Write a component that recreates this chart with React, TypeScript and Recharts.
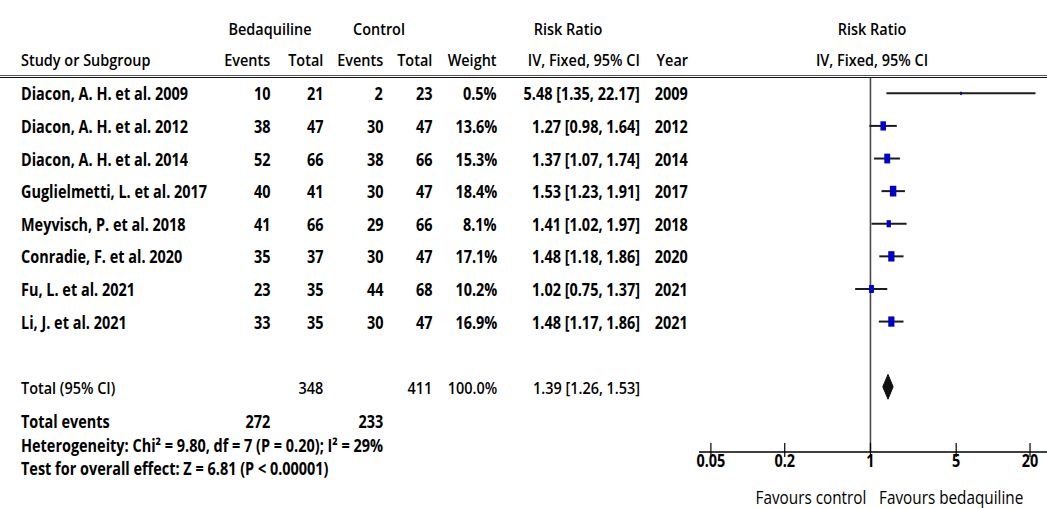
import React from "react";
import { ScatterChart, Scatter, XAxis, YAxis, ErrorBar, ReferenceLine } from "recharts";

// study rows, top to bottom
const studyNames = [
  "Diacon, A. H. et al. 2009",
  "Diacon, A. H. et al. 2012",
  "Diacon, A. H. et al. 2014",
  "Guglielmetti, L. et al. 2017",
  "Meyvisch, P. et al. 2018",
  "Conradie, F. et al. 2020",
  "Fu, L. et al. 2021",
  "Li, J. et al. 2021",
];
const bedEvents = [10, 38, 52, 40, 41, 35, 23, 33];
const bedTotals = [21, 47, 66, 41, 66, 37, 35, 35];
const ctrlEvents = [2, 30, 38, 30, 29, 30, 44, 30];
const ctrlTotals = [23, 47, 66, 47, 66, 47, 68, 47];
const weights = [0.5, 13.6, 15.3, 18.4, 8.1, 17.1, 10.2, 16.9];
const riskRatios = [5.48, 1.27, 1.37, 1.53, 1.41, 1.48, 1.02, 1.48];
const ciLow = [1.35, 0.98, 1.07, 1.23, 1.02, 1.18, 0.75, 1.17];
const ciHigh = [22.17, 1.64, 1.74, 1.91, 1.97, 1.86, 1.37, 1.86];
const years = [2009, 2012, 2014, 2017, 2018, 2020, 2021, 2021];

// pooled result
const totalBed = 348;
const totalCtrl = 411;
const totalEventsBed = 272;
const totalEventsCtrl = 233;
const totalRR = 1.39;
const totalLow = 1.26;
const totalHigh = 1.53;

const axisTicks = [0.05, 0.2, 1, 5, 20];

// layout
const W = 1047;
const H = 508;
const PLOT_LEFT = 699;
const PLOT_TOP = 77;
const PLOT_BOTTOM = 452;
const X_MIN = 0.04;
const X_MAX = 27.5;
const Y_MIN = -0.5;
const Y_MAX = 11;
const TOTAL_ROW = 9;
const FS = 17;
const SX = 0.85;
const FONT = "'Open Sans', sans-serif";

const rowY = (i: number) => PLOT_TOP + ((i - Y_MIN) / (Y_MAX - Y_MIN)) * (PLOT_BOTTOM - PLOT_TOP);

const fmt1 = (v: number) => v.toFixed(1) + "%";
const fmt2 = (v: number) => v.toFixed(2);
const rrText = (rr: number, lo: number, hi: number) => `${fmt2(rr)} [${fmt2(lo)}, ${fmt2(hi)}]`;

const studyPoints = riskRatios.map((rr, i) => ({
  x: rr,
  y: i,
  err: [rr - ciLow[i], ciHigh[i] - rr],
  w: weights[i],
}));

const diamondPoints = [
  { x: totalLow, y: TOTAL_ROW },
  { x: totalRR, y: TOTAL_ROW - 0.38 },
  { x: totalHigh, y: TOTAL_ROW },
  { x: totalRR, y: TOTAL_ROW + 0.38 },
  { x: totalLow, y: TOTAL_ROW },
];

function T({ x, y, a = "start", w = 700, s = FS, children }: any) {
  const base: React.CSSProperties = {
    position: "absolute",
    top: y,
    whiteSpace: "nowrap",
    lineHeight: 1,
    fontSize: s,
    fontWeight: w,
    fontFamily: FONT,
    color: "#000",
  };
  let style: React.CSSProperties;
  if (a === "end") {
    style = { ...base, right: W - x, transform: `translateY(-50%) scaleX(${SX})`, transformOrigin: "right center" };
  } else if (a === "middle") {
    style = { ...base, left: x, transform: `translate(-50%, -50%) scaleX(${SX})`, transformOrigin: "center center" };
  } else {
    style = { ...base, left: x, transform: `translateY(-50%) scaleX(${SX})`, transformOrigin: "left center" };
  }
  return <div style={style}>{children}</div>;
}

function AxisTick(props: any) {
  const { x, y, payload } = props;
  return (
    <g>
      <line x1={x} x2={x} y1={y - 9} y2={y + 5} stroke="#000" strokeWidth={1.2} />
      <text
        transform={`translate(${x},${y + 9}) scale(${SX},1)`}
        textAnchor="middle"
        dominantBaseline="central"
        fontFamily={FONT}
        fontWeight={700}
        fontSize={FS}
        fill="#000"
      >
        {String(payload.value)}
      </text>
    </g>
  );
}

const renderSquare = (p: any) => {
  const h = Math.max(2.5 * Math.sqrt(p.payload.w), 3);
  const w = Math.max(h * 0.6, 2);
  return <rect x={p.cx - w / 2} y={p.cy - h / 2} width={w} height={h} fill="#0000c8" />;
};

export default function App() {
  return (
    <div style={{ position: "absolute", left: 0, top: 0, width: W, height: H, background: "#fff", overflow: "hidden" }}>
      <div style={{ position: "absolute", left: 0, top: 0 }}>
        <ScatterChart
          width={W}
          height={H}
          margin={{ top: PLOT_TOP, right: 0, bottom: H - PLOT_BOTTOM - 30, left: PLOT_LEFT }}
        >
          <XAxis
            type="number"
            dataKey="x"
            scale="log"
            domain={[X_MIN, X_MAX]}
            ticks={axisTicks}
            interval={0}
            allowDataOverflow
            height={30}
            axisLine={{ stroke: "#000", strokeWidth: 1.5 }}
            tickLine={false}
            tickSize={0}
            tickMargin={0}
            tick={(p: any) => <AxisTick {...p} />}
          />
          <YAxis type="number" dataKey="y" domain={[Y_MIN, Y_MAX]} reversed hide width={0} allowDataOverflow />
          <ReferenceLine x={1} stroke="#4a4a4a" strokeWidth={1.6} />
          <Scatter data={studyPoints} isAnimationActive={false} shape={renderSquare}>
            <ErrorBar dataKey="err" direction="x" width={0} stroke="#1c1c1c" strokeWidth={2} />
          </Scatter>
          <Scatter
            data={diamondPoints}
            isAnimationActive={false}
            line={{ stroke: "#111", strokeWidth: 1, fill: "#111" }}
            shape={() => <g />}
          />
        </ScatterChart>
      </div>

      {/* header rule */}
      <div style={{ position: "absolute", left: 0, top: 75, width: W, height: 1, borderTop: "1px solid #555", borderBottom: "1px solid #111" }} />

      {/* headers */}
      <T x={270} y={28} a="middle" w={600}>Bedaquiline</T>
      <T x={379} y={28} a="middle" w={600}>Control</T>
      <T x={568} y={28} a="middle" w={600}>Risk Ratio</T>
      <T x={872} y={28} a="middle" w={600}>Risk Ratio</T>
      <T x={21} y={59} w={600}>Study or Subgroup</T>
      <T x={270} y={59} a="end" w={600}>Events</T>
      <T x={323} y={59} a="end" w={600}>Total</T>
      <T x={383} y={59} a="end" w={600}>Events</T>
      <T x={432} y={59} a="end" w={600}>Total</T>
      <T x={497} y={59} a="end" w={600}>Weight</T>
      <T x={640} y={59} a="end" w={600}>IV, Fixed, 95% CI</T>
      <T x={688} y={59} a="end" w={600}>Year</T>
      <T x={872} y={59} a="middle" w={600}>IV, Fixed, 95% CI</T>

      {/* study rows */}
      {studyNames.map((name, i) => (
        <React.Fragment key={name}>
          <T x={21} y={rowY(i)}>{name}</T>
          <T x={270} y={rowY(i)} a="end">{bedEvents[i]}</T>
          <T x={323} y={rowY(i)} a="end">{bedTotals[i]}</T>
          <T x={383} y={rowY(i)} a="end">{ctrlEvents[i]}</T>
          <T x={432} y={rowY(i)} a="end">{ctrlTotals[i]}</T>
          <T x={497} y={rowY(i)} a="end">{fmt1(weights[i])}</T>
          <T x={640} y={rowY(i)} a="end">{rrText(riskRatios[i], ciLow[i], ciHigh[i])}</T>
          <T x={688} y={rowY(i)} a="end">{years[i]}</T>
        </React.Fragment>
      ))}

      {/* totals */}
      <T x={21} y={rowY(TOTAL_ROW)} w={600}>Total (95% CI)</T>
      <T x={323} y={rowY(TOTAL_ROW)} a="end" w={600}>{totalBed}</T>
      <T x={432} y={rowY(TOTAL_ROW)} a="end" w={600}>{totalCtrl}</T>
      <T x={497} y={rowY(TOTAL_ROW)} a="end" w={600}>100.0%</T>
      <T x={640} y={rowY(TOTAL_ROW)} a="end" w={600}>{rrText(totalRR, totalLow, totalHigh)}</T>

      <T x={21} y={421}>Total events</T>
      <T x={270} y={421} a="end">{totalEventsBed}</T>
      <T x={383} y={421} a="end">{totalEventsCtrl}</T>
      <T x={21} y={444.5}>Heterogeneity: Chi² = 9.80, df = 7 (P = 0.20); I² = 29%</T>
      <T x={21} y={468}>Test for overall effect: Z = 6.81 (P &lt; 0.00001)</T>

      <T x={866} y={497} a="end" w={400} s={18}>Favours control</T>
      <T x={879} y={497} w={400} s={18}>Favours bedaquiline</T>
    </div>
  );
}
